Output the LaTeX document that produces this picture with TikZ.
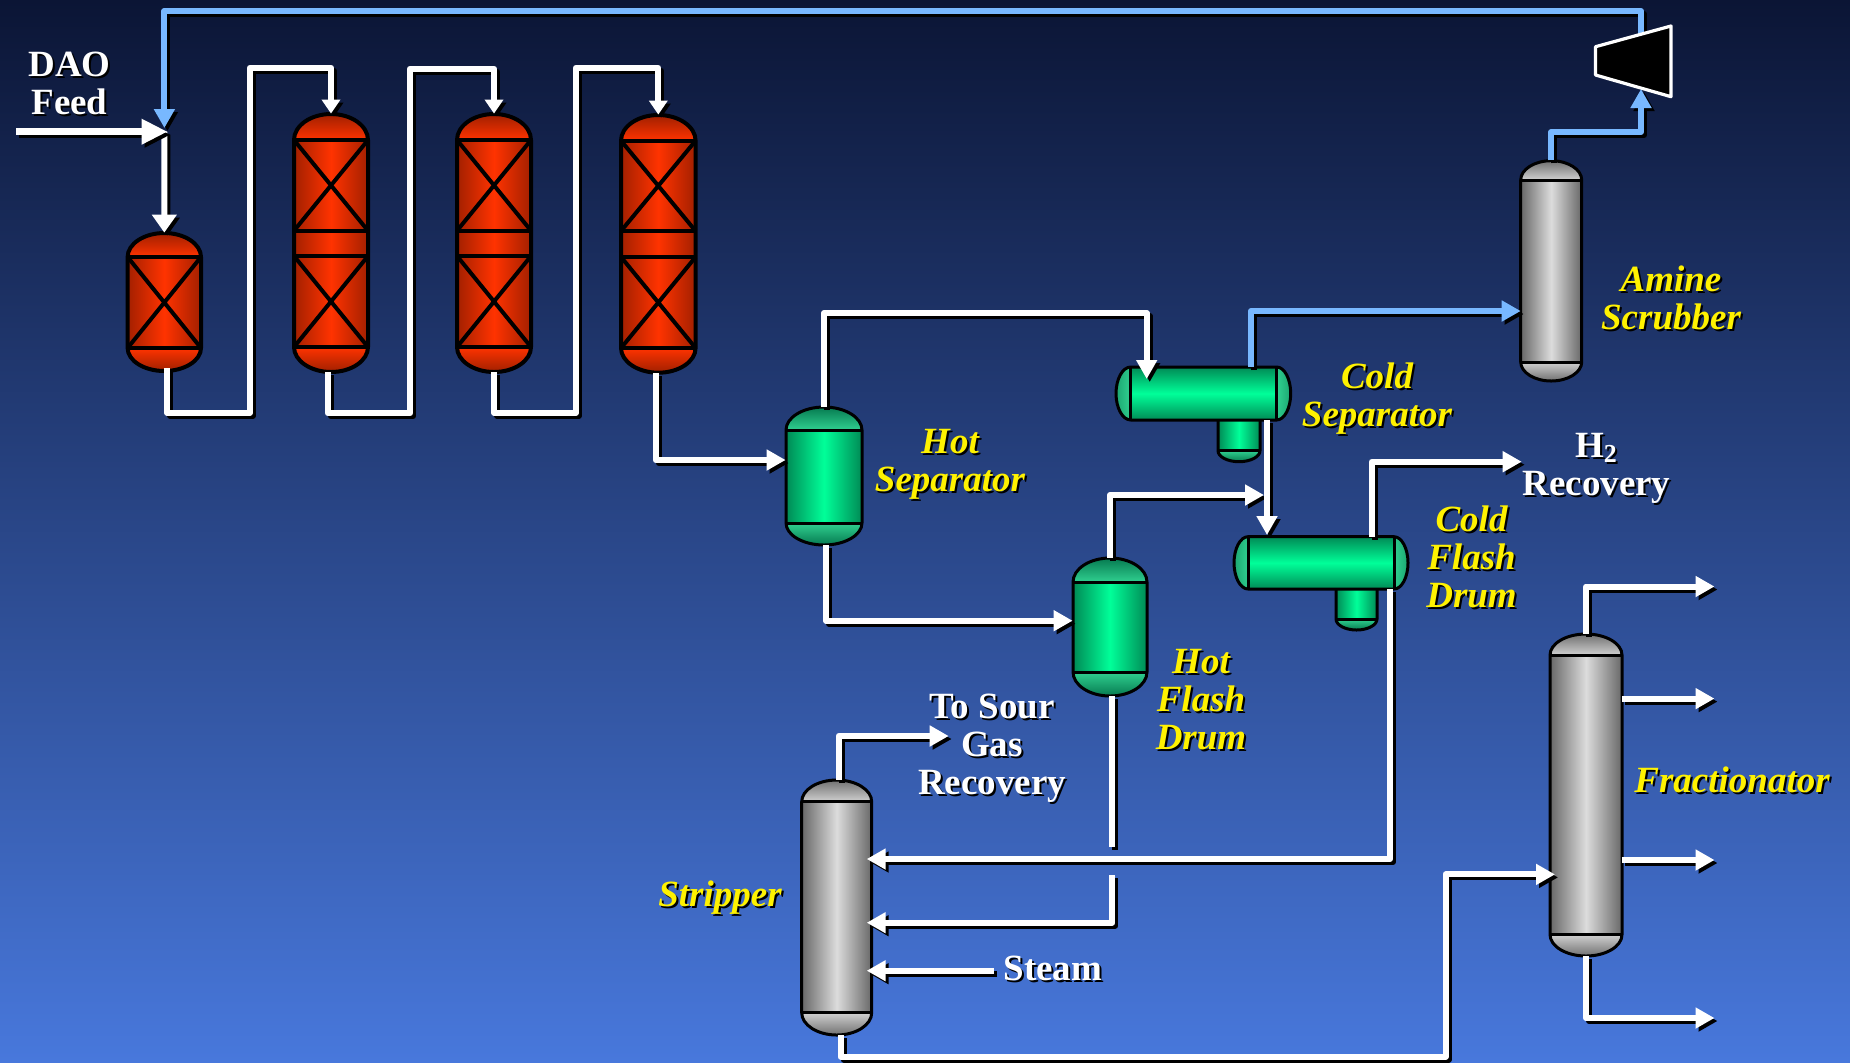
\documentclass[tikz,border=0pt]{standalone}
\usepackage{fontspec}
\setmainfont{Liberation Serif}
\usetikzlibrary{arrows.meta}
\definecolor{bgT}{HTML}{0B1535}
\definecolor{bgB}{HTML}{4878DC}
\definecolor{blueP}{HTML}{78B8FF}
\definecolor{redB}{HTML}{FF3300}\definecolor{redD}{HTML}{A32000}\definecolor{redT}{HTML}{A02000}\definecolor{redH}{HTML}{FF3300}
\definecolor{grnB}{HTML}{00FF99}\definecolor{grnD}{HTML}{008A55}\definecolor{grnT}{HTML}{067A50}\definecolor{grnH}{HTML}{30D090}
\definecolor{gryB}{HTML}{DCDCDC}\definecolor{gryD}{HTML}{686868}\definecolor{gryT}{HTML}{707070}\definecolor{gryH}{HTML}{D0D0D0}
\pgfdeclareradialshading{grnlft}{\pgfpoint{50bp}{0bp}}{color(0bp)=(grnH);color(18bp)=(grnH);color(85bp)=(grnT);color(100bp)=(grnT)}
\pgfdeclareradialshading{grnrgt}{\pgfpoint{-50bp}{0bp}}{color(0bp)=(grnH);color(18bp)=(grnH);color(85bp)=(grnT);color(100bp)=(grnT)}
\tikzset{
 pipebase/.style={line width=3pt,line join=round},
 tipn/.style={-{Triangle[length=9.5pt,width=10pt]}},
 tipr/.style={-{Triangle[length=7pt,width=9pt]}},
 tipb/.style={-{Triangle[length=9pt,width=12pt]}},
 tipf/.style={line width=3.6pt,-{Triangle[length=13pt,width=12pt]}},
 vline/.style={draw=black,line width=1.5pt,line join=round},
 rline/.style={draw=black,line width=2pt,line join=round},
 labw/.style={white,font=\bfseries\fontsize{18.5}{19}\selectfont,align=center,anchor=base,inner sep=0pt},
 laby/.style={yellow,font=\bfseries\itshape\fontsize{18.5}{19}\selectfont,align=center,anchor=base,inner sep=0pt}
}
% [pipe options]{colour}{path}
\newcommand\pipe[3][]{%
 \draw[pipebase,#1,draw=black,transform canvas={shift={(1.5pt,-1.5pt)}}]#3;
 \draw[pipebase,#1,draw=#2]#3;}
% name, x, y (baseline of the last line), style, text
\newcommand\lbl[5]{%
 \node[#4,black] at ({#2+2},{#3+2}) {#5};
 \node[#4] (#1) at (#2,#3) {#5};}
% name,xl,xr,top,t1,t2,bot,palette,linestyle
\newcommand\vvessel[9]{%
 \pgfmathsetmacro\cx{(#2+#3)/2}\pgfmathsetmacro\hw{(#3-#2)/2}%
 \pgfmathsetmacro\kx{.55*\hw}\pgfmathsetmacro\ka{#5-.55*(#5-#4)}\pgfmathsetmacro\kb{#6+.55*(#7-#6)}%
 \node[inner sep=0pt,minimum width={(#3-#2)*.5pt},minimum height={(#7-#4)*.5pt}] (#1) at (\cx,{(#4+#7)/2}) {};
 \shade[left color=#8D,right color=#8D,middle color=#8B] (#2,#5) rectangle (#3,#6);
 \shade[top color=#8T,bottom color=#8H] (#2,#5) .. controls (#2,\ka) and ({\cx-\kx},#4) .. (\cx,#4) .. controls ({\cx+\kx},#4) and (#3,\ka) .. (#3,#5) -- cycle;
 \shade[top color=#8H,bottom color=#8T] (#2,#6) .. controls (#2,\kb) and ({\cx-\kx},#7) .. (\cx,#7) .. controls ({\cx+\kx},#7) and (#3,\kb) .. (#3,#6) -- cycle;
 \draw[#9] (#2,#5) .. controls (#2,\ka) and ({\cx-\kx},#4) .. (\cx,#4) .. controls ({\cx+\kx},#4) and (#3,\ka) .. (#3,#5) -- (#3,#6) .. controls (#3,\kb) and ({\cx+\kx},#7) .. (\cx,#7) .. controls ({\cx-\kx},#7) and (#2,\kb) .. (#2,#6) -- cycle;
 \draw[#9] (#2,#5) -- (#3,#5) (#2,#6) -- (#3,#6);}
% catalyst X: xl,xr,y1,y2
\newcommand\xbed[4]{\draw[rline] (#1,#3) -- (#2,#4) (#2,#3) -- (#1,#4);}
% name,xl,xr,top,bot,tl,tr then {bl,br,bt,bb}
\newcommand\hvessel[8]{\hvesselx{#1}{#2}{#3}{#4}{#5}{#6}{#7}#8}
\newcommand\hvesselx[9]{\hvesselz{#1}{#2}{#3}{#4}{#5}{#6}{#7}{#8}{#9}}
\newcommand\hvesselz[9]{%
 \def\nm{#1}\def\xl{#2}\def\xr{#3}\def\ty{#4}\def\by{#5}\def\tl{#6}\def\tr{#7}\def\bl{#8}\def\br{#9}\hvesselw}
\newcommand\hvesselw[2]{%
 \pgfmathsetmacro\cy{(\ty+\by)/2}\pgfmathsetmacro\hh{(\by-\ty)/2}\pgfmathsetmacro\ky{.55*\hh}%
 \pgfmathsetmacro\kl{\tl-.55*(\tl-\xl)}\pgfmathsetmacro\kr{\tr+.55*(\xr-\tr)}%
 \pgfmathsetmacro\bx{(\bl+\br)/2}\pgfmathsetmacro\bw{.55*(\br-\bl)/2}\pgfmathsetmacro\kb{#1+.55*(#2-#1)}%
 \shade[left color=grnD,right color=grnD,middle color=grnB] (\bl,\by) rectangle (\br,#1);
 \shade[top color=grnH,bottom color=grnT] (\bl,#1) .. controls (\bl,\kb) and ({\bx-\bw},#2) .. (\bx,#2) .. controls ({\bx+\bw},#2) and (\br,\kb) .. (\br,#1) -- cycle;
 \draw[vline] (\bl,\by) -- (\bl,#1) .. controls (\bl,\kb) and ({\bx-\bw},#2) .. (\bx,#2) .. controls ({\bx+\bw},#2) and (\br,\kb) .. (\br,#1) -- (\br,\by);
 \draw[vline] (\bl,#1) -- (\br,#1);
 \node[inner sep=0pt,minimum width={(\xr-\xl)*.5pt},minimum height={(\by-\ty)*.5pt}] (\nm) at ({(\xl+\xr)/2},\cy) {};
 \shade[top color=grnD,bottom color=grnD,middle color=grnB] (\tl,\ty) rectangle (\tr,\by);
 \shade[shading=grnlft] (\tl,\ty) .. controls (\kl,\ty) and (\xl,{\cy-\ky}) .. (\xl,\cy) .. controls (\xl,{\cy+\ky}) and (\kl,\by) .. (\tl,\by) -- cycle;
 \shade[shading=grnrgt] (\tr,\ty) .. controls (\kr,\ty) and (\xr,{\cy-\ky}) .. (\xr,\cy) .. controls (\xr,{\cy+\ky}) and (\kr,\by) .. (\tr,\by) -- cycle;
 \draw[vline] (\tl,\ty) -- (\tr,\ty) .. controls (\kr,\ty) and (\xr,{\cy-\ky}) .. (\xr,\cy) .. controls (\xr,{\cy+\ky}) and (\kr,\by) .. (\tr,\by) -- (\tl,\by) .. controls (\kl,\by) and (\xl,{\cy+\ky}) .. (\xl,\cy) .. controls (\xl,{\cy-\ky}) and (\kl,\ty) .. (\tl,\ty) -- cycle;
 \draw[vline] (\tl,\ty) -- (\tl,\by) (\tr,\ty) -- (\tr,\by);}
\begin{document}
\begin{tikzpicture}[x=0.5pt,y=-0.5pt]
\useasboundingbox (0,0) rectangle (1850,1062);
\shade[top color=bgT,bottom color=bgB] (0,0) rectangle (1850,1062);

% reactors
\vvessel{r1}{127.6}{201}{233}{257}{348}{371}{red}{rline}
\xbed{127.6}{201}{257}{348}
\vvessel{r2}{294}{368}{114}{140}{347}{372}{red}{rline}
\draw[rline] (294,230.7) -- (368,230.7) (294,256) -- (368,256);
\xbed{294}{368}{140}{230.7}\xbed{294}{368}{256}{347}
\vvessel{r3}{457}{531}{114}{140}{347}{372}{red}{rline}
\draw[rline] (457,230.7) -- (531,230.7) (457,256) -- (531,256);
\xbed{457}{531}{140}{230.7}\xbed{457}{531}{256}{347}
\vvessel{r4}{621}{695.6}{115}{140.7}{348}{372.7}{red}{rline}
\draw[rline] (621,231) -- (695.6,231) (621,257) -- (695.6,257);
\xbed{621}{695.6}{140.7}{231}\xbed{621}{695.6}{257}{348}

% separators and drums
\vvessel{hs}{786}{862}{407}{430}{523}{545}{grn}{vline}
\vvessel{hfd}{1073}{1147}{558}{582}{672}{696}{grn}{vline}
\hvessel{cs}{1116}{1290.7}{367}{420}{1130.7}{1276.7}{{1218}{1260}{450.7}{461.7}}
\hvessel{cfd}{1234}{1408}{536.7}{589}{1248}{1394}{{1336}{1377}{619}{630}}

% columns
\vvessel{scrub}{1520.7}{1581.7}{160.7}{180}{362}{381}{gry}{vline}
\vvessel{strip}{801.7}{871.7}{780}{801.7}{1012.7}{1035}{gry}{vline}
\vvessel{frac}{1550}{1622}{634}{655}{934.6}{956}{gry}{vline}

% connection points
\coordinate (feedS) at (16,131.7);
\coordinate (feedT) at (167.6,131.7);
\coordinate (rejoin) at (164.4,131.7);
\coordinate (recyT) at (164.4,128);
\coordinate (compTop) at (1641,36);
\coordinate (compBot) at (1641,89);
\coordinate (csIn) at (1146.7,379);
\coordinate (csGas) at (1251,367);
\coordinate (scrubIn) at (1520.7,311);
\coordinate (csLiq) at (1267,420);
\coordinate (cfIn) at (1267,535);
\coordinate (hfdT) at (1264,495);
\coordinate (cfUp) at (1371.7,536.7);
\coordinate (cfDn) at (1390,589);
\coordinate (h2T) at (1521.7,461.7);
\coordinate (st1) at (866.7,859);
\coordinate (st2) at (866.7,922.7);
\coordinate (st3) at (866.7,970.7);
\coordinate (steamS) at (994,970.7);
\coordinate (hfdB1) at (1112.3,846.7);
\coordinate (hfdB2) at (1112.3,875);
\coordinate (sourT) at (948.7,736);
\coordinate (fr1) at (1714.5,586.5);
\coordinate (fr2) at (1714.5,698.6);
\coordinate (fr3) at (1714.5,860);
\coordinate (fr4) at (1714.5,1018);
\coordinate (frS2) at (1622,698.6);
\coordinate (frS3) at (1622,860);
\coordinate (frIn) at (1555,874.4);

% recycle gas
\pipe[tipn]{blueP}{(compTop) -- (1641,11) -- (164.4,11) -- (recyT)}
\pipe[tipb]{white}{(rejoin) -- (r1.north)}
\pipe[tipf]{white}{(feedS) -- (feedT)}

% reactor train
\pipe[tipr]{white}{([xshift=1.35pt]r1.south) ++(0,-3) |- (250,412.7) -- (250,67.7) -| (r2.north)}
\pipe[tipr]{white}{([xshift=-1.5pt]r2.south) |- (410,413.3) -- (410,68.7) -| (r3.north)}
\pipe[tipr]{white}{(r3.south) |- (576,412.7) -- (576,67.7) -| (r4.north)}
\pipe[tipn]{white}{([xshift=-1.35pt]r4.south) |- ([yshift=8pt]hs.west)}

% separators
\pipe[tipn]{white}{(hs.north) |- (1146.7,313) -- (csIn)}
\pipe[tipn]{white}{([xshift=1pt]hs.south) |- ([yshift=3.15pt]hfd.west)}
\pipe[tipn]{blueP}{(csGas) |- (scrubIn)}
\pipe[tipn]{white}{(hfd.north) |- (hfdT)}
\pipe[tipn]{white}{(csLiq) -- (cfIn)}
\pipe[tipn]{white}{(cfUp) |- (h2T)}
\pipe[tipn]{white}{(cfDn) |- (st1)}
\pipe{white}{(hfd.south) ++(2.3,0) -- (hfdB1)}
\pipe[tipn]{white}{(hfdB2) |- (st2)}
\pipe[tipn]{white}{(steamS) -- (st3)}
\pipe[tipn]{white}{([xshift=1pt]strip.north) |- (sourT)}
\pipe[tipn]{white}{([xshift=2pt]strip.south) |- (1445.5,1056.7) -- (1445.5,874.4) -- (frIn)}

% fractionator products
\pipe[tipn]{white}{(frac.north) |- (fr1)}
\pipe[tipn]{white}{(frS2) -- (fr2)}
\pipe[tipn]{white}{(frS3) -- (fr3)}
\pipe[tipn]{white}{(frac.south) |- (fr4)}

% compressor
\draw[fill=black,draw=white,line width=1.6pt,line join=round] (1595.5,46.7) -- (1671,26) -- (1671,96.7) -- (1595.5,75) -- cycle;
\pipe[tipn]{blueP}{(scrub.north) |- (1641,132) -- (compBot)}

% labels
\lbl{tDAO}{69.5}{114}{labw}{DAO\\Feed}
\lbl{tAmine}{1671}{329.5}{laby}{Amine\\Scrubber}
\lbl{tCS}{1377}{426}{laby}{Cold\\Separator}
\lbl{tHS}{950}{491}{laby}{Hot\\Separator}
\lbl{tH2}{1596.5}{495.6}{labw}{H\textsubscript{2}\\Recovery}
\lbl{tCF}{1471.5}{607.5}{laby}{Cold\\Flash\\Drum}
\lbl{tHF}{1201}{749}{laby}{Hot\\Flash\\Drum}
\lbl{tSour}{992}{794}{labw}{To Sour\\Gas\\Recovery}
\lbl{tStrip}{720}{906}{laby}{Stripper}
\lbl{tSteam}{1052.8}{980}{labw}{Steam}
\lbl{tFrac}{1732}{792}{laby}{Fractionator}
\end{tikzpicture}
\end{document}
